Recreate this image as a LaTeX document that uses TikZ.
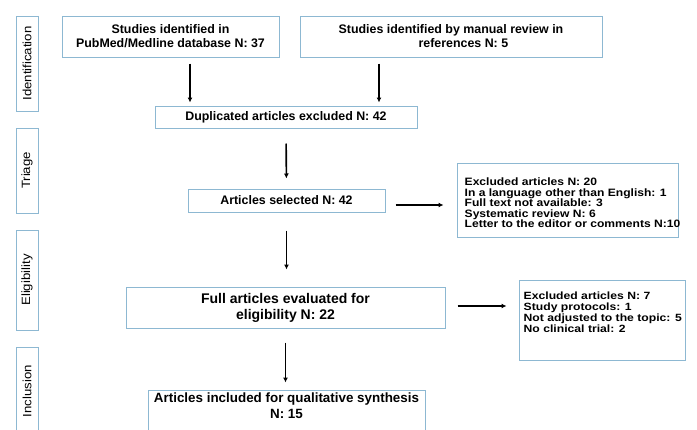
\documentclass[tikz,border=0pt]{standalone}
\usepackage{fontspec}
\setmainfont{Liberation Sans}
\newfontfamily\exclfont[FakeStretch=1.13]{Liberation Sans}
\newfontfamily\smallexclfont[FakeStretch=1.16]{Liberation Sans}
\newfontfamily\stagefont[FakeStretch=1.1]{Liberation Sans}
\usetikzlibrary{arrows.meta}
\definecolor{boxblue}{HTML}{8DB8D2}
\tikzset{
  box/.style={draw=boxblue,line width=1pt,align=center,inner sep=2pt,
    font=\bfseries\fontsize{12.4}{14}\selectfont},
  listtext/.style={align=left,inner sep=0pt,font=\exclfont\bfseries\fontsize{10.7}{10.5}\selectfont},
  stage/.style={draw=boxblue,line width=1pt,rotate=90,minimum height=22pt,
    inner sep=0pt,font=\stagefont\fontsize{12}{12}\selectfont},
  arr/.style={-{Latex[length=5pt,width=5pt]},line width=1.6pt}
}
\begin{document}
\begin{tikzpicture}[x=1pt,y=-1pt]
\useasboundingbox (0,0) rectangle (697,429);
% stages
\node[stage,minimum width=95pt] (sid) at (27,63.5) {Identification};
\node[stage,minimum width=85pt] (str) at (27,170.5) {Triage};
\node[stage,minimum width=100pt] (sel) at (27,280) {Eligibility};
\node[stage,minimum width=88pt] (sin) at (27,391) {Inclusion};
% boxes
\node[box,minimum width=217pt,minimum height=41pt] (pubmed) at (170.5,36.5) {Studies identified in\\PubMed/Medline database N: 37};
\node[box,minimum width=302pt,minimum height=41pt] (manual) at (451,36.5) {Studies identified by manual review in\\\hspace*{2em}references N: 5};
\node[box,minimum width=262pt,minimum height=22pt] (dup) at (286,117) {Duplicated articles excluded N: 42};
\node[box,minimum width=197pt,minimum height=23pt] (selected) at (286.5,200.5) {Articles selected N: 42};
\node[box,minimum width=221pt,minimum height=74pt] (excl1) at (567.5,200) {};
\node[listtext,anchor=west] at ([xshift=8pt,yshift=-3pt]excl1.west) {Excluded articles N: 20\\In a language other than English: 1\\Full text not available: 3\\Systematic review N: 6\\Letter to the editor or comments N:10};
\node[box,minimum width=319pt,minimum height=41pt,font=\bfseries\fontsize{14}{16}\selectfont] (full) at (285.5,307.5) {Full articles evaluated for\\eligibility N: 22};
\node[box,minimum width=166pt,minimum height=80pt] (excl2) at (602,320) {};
\node[listtext,anchor=north west,font=\smallexclfont\bfseries\fontsize{10.5}{11}\selectfont] at ([xshift=5pt,yshift=-12pt]excl2.north west) {Excluded articles N: 7\\Study protocols: 1\\Not adjusted to the topic: 5\\No clinical trial: 2};
\node[box,minimum width=277pt,minimum height=52pt] (incl) at (286.5,416) {};
\node[box,draw=none,anchor=north,font=\bfseries\fontsize{13.4}{16}\selectfont] at ([yshift=-1pt]incl.north) {Articles included for qualitative synthesis\\N: 15};
% arrows
\coordinate (c1) at (190,0);
\coordinate (c2) at (379,0);
\coordinate (c3) at (0,205);
\coordinate (c4) at (0,306);
\draw[arr,shorten <=6pt,shorten >=3pt] (pubmed.south -| c1) -- (dup.north -| c1);
\draw[arr,shorten <=6pt,shorten >=3pt] (manual.south -| c2) -- (dup.north -| c2);
\draw[arr,shorten <=15pt,shorten >=10pt] (dup) -- (selected);
\draw[arr,shorten <=10pt,shorten >=13pt] (selected.east |- c3) -- (excl1.west |- c3);
\draw[arr,shorten <=18pt,shorten >=17pt] (selected.south) -- (selected.south |- full.north);
\draw[arr,shorten <=12pt,shorten >=12pt] (full.east |- c4) -- (excl2.west |- c4);
\draw[arr,shorten <=14pt,shorten >=7pt] (full.south) -- (full.south |- incl.north);
\end{tikzpicture}
\end{document}
